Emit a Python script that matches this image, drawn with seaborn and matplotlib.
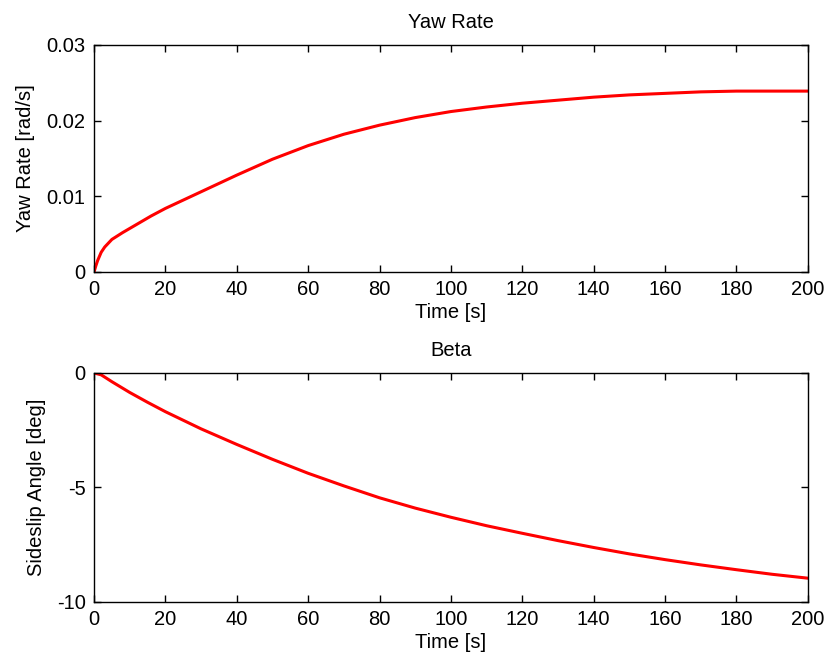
import numpy as np
import pandas as pd
import matplotlib
matplotlib.use('Agg')
import matplotlib.pyplot as plt
import seaborn as sns

# values
time_yaw = [0, 0.5, 1, 2, 3, 5, 8, 12, 16, 20, 25, 30, 40, 50, 60, 70, 80, 90, 100,
            110, 120, 130, 140, 150, 160, 170, 180, 190, 200]
yaw_rate = [0, 0.0008, 0.0015, 0.0026, 0.0033, 0.0043, 0.0052, 0.0063, 0.0074, 0.0084,
            0.0095, 0.0106, 0.0128, 0.0149, 0.0167, 0.0182, 0.0194, 0.0204, 0.0212,
            0.0218, 0.0223, 0.0227, 0.0231, 0.0234, 0.0236, 0.0238, 0.0239, 0.0239, 0.0239]

time_beta = [0, 2, 5, 10, 15, 20, 30, 40, 50, 60, 70, 80, 90, 100, 110, 120, 130, 140,
             150, 160, 170, 180, 190, 200]
beta = [0, -0.08, -0.38, -0.85, -1.28, -1.69, -2.44, -3.12, -3.77, -4.38, -4.93, -5.45,
        -5.9, -6.3, -6.67, -7.0, -7.32, -7.62, -7.9, -8.15, -8.38, -8.59, -8.79, -8.96]

yaw_df = pd.DataFrame({'t': time_yaw, 'r': yaw_rate})
beta_df = pd.DataFrame({'t': time_beta, 'b': beta})

sns.set_theme(style='ticks')
plt.rcParams['font.family'] = ['Liberation Sans', 'DejaVu Sans']
plt.rcParams['text.color'] = 'black'
plt.rcParams['axes.labelcolor'] = 'black'
plt.rcParams['xtick.color'] = 'black'
plt.rcParams['ytick.color'] = 'black'
plt.rcParams['xtick.direction'] = 'in'
plt.rcParams['ytick.direction'] = 'in'
plt.rcParams['xtick.top'] = True
plt.rcParams['ytick.right'] = True
plt.rcParams['axes.linewidth'] = 1.0

fs = 14.5

fig = plt.figure(figsize=(8.3, 6.59), dpi=100)
ax1 = fig.add_axes([0.1133, 0.5873, 0.860, 0.3445])
ax2 = fig.add_axes([0.1133, 0.0865, 0.860, 0.3475])

# top: yaw rate
sns.lineplot(data=yaw_df, x='t', y='r', ax=ax1, color='#ff0000', linewidth=2.2)
ax1.set_xlim(0, 200)
ax1.set_ylim(0, 0.03)
ax1.set_xticks(np.arange(0, 201, 20))
ax1.set_yticks([0, 0.01, 0.02, 0.03])
ax1.set_yticklabels(['0', '0.01', '0.02', '0.03'])
ax1.set_title('Yaw Rate', fontsize=fs, pad=12)
ax1.set_xlabel('Time [s]', fontsize=fs, labelpad=2.5)
ax1.set_ylabel('Yaw Rate [rad/s]', fontsize=fs, labelpad=8)

# bottom: sideslip angle
sns.lineplot(data=beta_df, x='t', y='b', ax=ax2, color='#ff0000', linewidth=2.2)
ax2.set_xlim(0, 200)
ax2.set_ylim(-10, 0)
ax2.set_xticks(np.arange(0, 201, 20))
ax2.set_yticks([-10, -5, 0])
ax2.set_yticklabels(['-10', '-5', '0'])
ax2.set_title('Beta', fontsize=fs, pad=12)
ax2.set_xlabel('Time [s]', fontsize=fs, labelpad=2.5)
ax2.set_ylabel('Sideslip Angle [deg]', fontsize=fs, labelpad=8)

for ax in (ax1, ax2):
    ax.tick_params(labelsize=fs, length=5, width=1, color='black', pad=6)
    for s in ax.spines.values():
        s.set_visible(True)
        s.set_color('black')

fig.savefig('out.png', dpi=100)
